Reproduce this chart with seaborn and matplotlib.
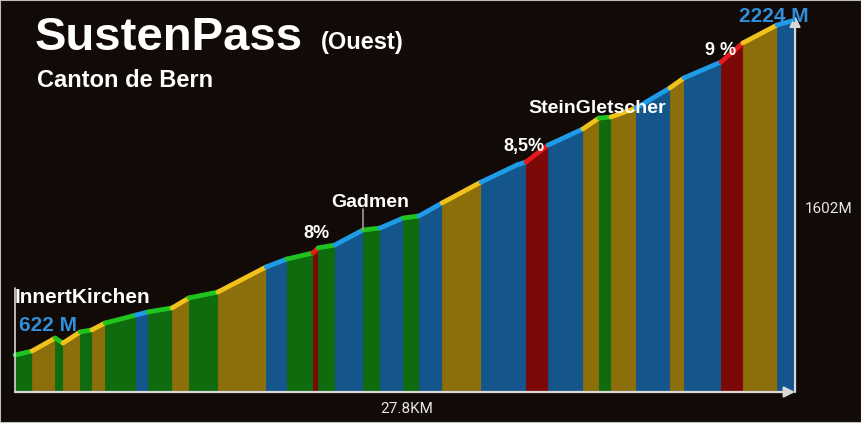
import matplotlib
matplotlib.use("Agg")
import matplotlib.pyplot as plt
import pandas as pd
import seaborn as sns
from matplotlib.patches import Rectangle

# Profile breakpoints (distance in km, altitude in m)
km = [0, 0.61, 1.43, 1.71, 2.32, 2.74, 3.21, 4.31, 4.74, 5.60, 6.20, 7.23, 8.95, 9.69,
      10.62, 10.80, 11.40, 12.40, 13.01, 13.83, 14.40, 15.22, 16.61, 17.89, 18.21, 19.00,
      20.24, 20.81, 21.24, 22.13, 23.34, 23.84, 25.16, 25.94, 27.16, 27.80]
elev = [622, 641, 703, 679, 732, 742, 775, 813, 828, 847, 895, 923, 1043, 1081,
        1110, 1134, 1148, 1220, 1229, 1277, 1287, 1349, 1449, 1531, 1545, 1626,
        1703, 1755, 1760, 1803, 1899, 1947, 2023, 2114, 2200, 2224]
# gradient class of each segment: g=green, y=yellow, b=blue, r=red
seg_class = ["g", "y", "g", "y", "g", "y", "g", "b", "g", "y", "g", "y", "b", "g",
             "r", "g", "b", "g", "b", "g", "b", "y", "b", "b", "r", "b",
             "y", "g", "y", "b", "y", "b", "r", "y", "b"]

line_colors = {"g": "#1fc41f", "y": "#f2c21c", "b": "#1f9ce8", "r": "#e41a1a"}
fill_colors = {"g": "#0e6c0e", "y": "#8c6e0a", "b": "#14568c", "r": "#7d0808"}
bg = "#120a06"
base = 445

rows = []
for i, c in enumerate(seg_class):
    rows.append({"km": km[i], "elev": elev[i], "seg": i})
    rows.append({"km": km[i + 1], "elev": elev[i + 1], "seg": i})
df = pd.DataFrame(rows)

sns.set_theme(style="dark")
plt.rcParams["font.family"] = ["Liberation Sans", "DejaVu Sans"]

fig = plt.figure(figsize=(8.62, 4.23), dpi=100, facecolor=bg)
ax = fig.add_axes([0, 0, 1, 1])
ax.set_facecolor(bg)

# filled columns below each segment (thin same-colour edge hides seams)
for i, c in enumerate(seg_class):
    ax.fill_between([km[i], km[i + 1]], [elev[i], elev[i + 1]], base,
                    facecolor=fill_colors[c], edgecolor=fill_colors[c],
                    linewidth=0.6, zorder=1)

# coloured top line
sns.lineplot(data=df, x="km", y="elev", hue="seg",
             palette=[line_colors[c] for c in seg_class], estimator=None,
             legend=False, linewidth=3.4, sort=False, ax=ax, zorder=3)

# axes arrows
axis_col = "#d8d8d8"
ax.annotate("", xy=(km[-1], base), xytext=(0, base),
            arrowprops=dict(arrowstyle="-|>", color=axis_col, lw=1.6,
                            mutation_scale=16, shrinkA=0, shrinkB=0), zorder=4)
ax.annotate("", xy=(km[-1], 2245), xytext=(km[-1], base),
            arrowprops=dict(arrowstyle="-|>", color=axis_col, lw=1.6,
                            mutation_scale=16, shrinkA=0, shrinkB=0), zorder=4)
ax.plot([0, 0], [base, 942], color=axis_col, lw=1.2, zorder=4)
ax.plot([12.40, 12.40], [1220, 1322], color="#9a9a9a", lw=1.2, zorder=4)

# place / gradient labels
lab = dict(color="white", fontweight="bold", va="baseline", ha="left", zorder=5)
ax.text(0, 871, "InnertKirchen", fontsize=15, **lab)
ax.text(0.14, 737, "622 M", fontsize=15, **{**lab, "color": "#2f8fdb"})
ax.text(10.26, 1181, "8%", fontsize=13, **lab)
ax.text(11.26, 1330, "Gadmen", fontsize=14, **lab)
ax.text(17.39, 1597, "8,5%", fontsize=13, **lab)
ax.text(18.28, 1779, "SteinGletscher", fontsize=14, **lab)
ax.text(24.59, 2057, "9 %", fontsize=13, **lab)
ax.text(25.80, 2214, "2224 M", fontsize=15, **{**lab, "color": "#2f8fdb"})

ax.set_xlim(-0.5346, 30.187)
ax.set_ylim(296.8, 2319.6)
ax.axis("off")

W, H = 862, 423
def fx(x):
    return x / W
def fy(y):
    return 1 - y / H

fig.text(fx(35), fy(50), "SustenPass", fontsize=34, fontweight="bold", color="white", va="baseline")
fig.text(fx(321), fy(49), "(Ouest)", fontsize=17, fontweight="bold", color="white", va="baseline")
fig.text(fx(37), fy(87), "Canton de Bern", fontsize=17, fontweight="bold", color="white", va="baseline")
fig.text(fx(805), fy(213), "1602M", fontsize=11, family=["Roboto", "DejaVu Sans"], color="#e6e6e6", va="baseline")
fig.text(fx(407), fy(413), "27.8KM", fontsize=11, family=["Roboto", "DejaVu Sans"], color="#e6e6e6", va="baseline", ha="center")

fig.patches.append(Rectangle((0, 0), 1, 1, transform=fig.transFigure, fill=False,
                             edgecolor="#bdbdbd", linewidth=1.5))

fig.savefig("out.png", dpi=100, facecolor=bg)
